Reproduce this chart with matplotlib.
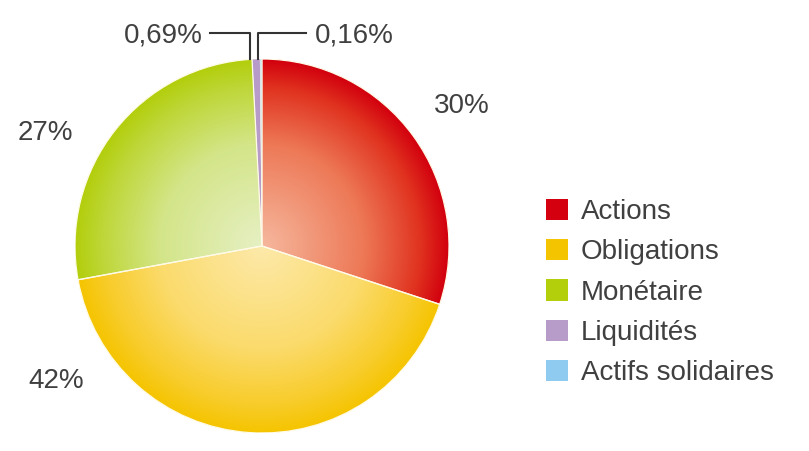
import numpy as np
import matplotlib
matplotlib.use("Agg")
import matplotlib.pyplot as plt
from matplotlib.patches import Wedge
from matplotlib.lines import Line2D
from matplotlib.colors import to_rgb

# ---- data ----
categories = ["Actions", "Obligations", "Monétaire", "Liquidités", "Actifs solidaires"]
values = [30, 42, 27, 0.69, 0.16]
value_labels = ["30%", "42%", "27%", "0,69%", "0,16%"]

# ---- style ----
outer_colors = ["#d4000f", "#f5c400", "#b3cf0b", "#b79bc9", "#8fcaf0"]
# radial colour stops (inner -> outer) for the gradient of each slice
grad_stops = [0.0, 0.55, 0.85, 1.0]
grad_colors = [
    ["#f6b89e", "#ed7856", "#e0321f", "#d2000e"],
    ["#fde9aa", "#fbdb6c", "#f8cc2a", "#f5c400"],
    ["#e6f0c4", "#d3e588", "#bfd73a", "#b2ce0b"],
    ["#b79bc9", "#b79bc9", "#b79bc9", "#b79bc9"],
    ["#8fcaf0", "#8fcaf0", "#8fcaf0", "#8fcaf0"],
]
edge_widths = [0.9, 0.9, 0.9, 0.3, 0.3]
text_color = "#404040"
FONT = ["Liberation Sans", "DejaVu Sans"]
plt.rcParams["font.family"] = FONT

W, H = 809, 451
fig = plt.figure(figsize=(W / 100, H / 100), dpi=100)
fig.patch.set_facecolor("white")

def fx(px):
    return px / W

def fy(py):
    return 1 - py / H

# pie axes: center (262,246), radius 187 px
cx, cy, R = 262, 246, 187
ax = fig.add_axes([fx(cx - R), fy(cy + R), 2 * R / W, 2 * R / H])

wedges, _ = ax.pie(values, colors=outer_colors, startangle=90, counterclock=False,
                   radius=1, center=(0, 0), wedgeprops=dict(linewidth=0))

# radial gradient fill for each wedge
n = 500
xs = np.linspace(-1, 1, n)
X, Y = np.meshgrid(xs, xs)
Rr = np.clip(np.sqrt(X ** 2 + Y ** 2), 0, 1)
for w, cols, lw in zip(wedges, grad_colors, edge_widths):
    rgb = np.array([to_rgb(c) for c in cols])
    img = np.stack([np.interp(Rr, grad_stops, rgb[:, k]) for k in range(3)], axis=-1)
    im = ax.imshow(img, extent=(-1, 1, -1, 1), origin="lower", zorder=2,
                   interpolation="bilinear")
    im.set_clip_path(w)
    edge = Wedge(w.center, w.r, w.theta1, w.theta2, facecolor="none",
                 edgecolor="#fffbe8", linewidth=lw, zorder=3)
    ax.add_patch(edge)
ax.set_xlim(-1, 1)
ax.set_ylim(-1, 1)
ax.set_aspect("equal")
ax.axis("off")

# value labels
label_pos = [(462, 113), (56, 388), (45, 140), (163, 42), (354, 43)]
for txt, (px, py) in zip(value_labels, label_pos):
    fig.text(fx(px), fy(py), txt, ha="center", va="baseline", fontsize=20,
             color=text_color)

# leader lines for small slices
for xs_, ys_ in [([210, 250, 250], [33, 33, 59]), ([306, 258, 258], [33, 33, 59])]:
    fig.add_artist(Line2D([fx(v) for v in xs_], [fy(v) for v in ys_],
                          color="#333333", linewidth=1.5))

# legend
leg = fig.legend(wedges, categories, loc="upper left",
                 bbox_to_anchor=(fx(546), fy(199)), frameon=False,
                 fontsize=20, handlelength=0.8, handleheight=0.8,
                 handletextpad=0.45, labelspacing=0.5, borderpad=0,
                 borderaxespad=0, labelcolor=text_color)

fig.savefig("out.png", dpi=100, facecolor="white")
